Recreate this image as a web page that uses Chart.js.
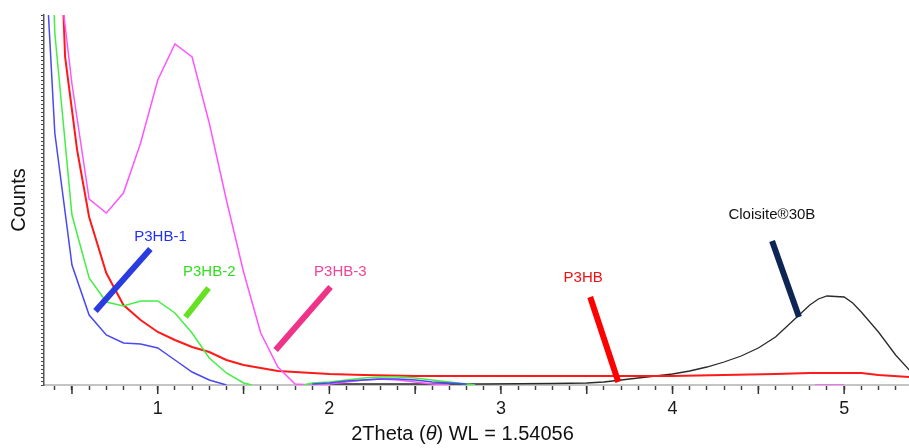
<!DOCTYPE html>
<html>
<head>
<meta charset="utf-8">
<title>XRD P3HB</title>
<script src="https://cdn.jsdelivr.net/npm/chart.js"></script>
<style>
    html, body { margin: 0; padding: 0; background: #fff; }
    #wrap { width: 909px; height: 448px; }
</style>
</head>
<body>
<div id="wrap"><canvas id="xrdChart" width="909" height="448"></canvas></div>
<script>
// 2Theta (graus) e contagens (unidades arbitrarias) de cada amostra
const p3hb1X = [0.3, 0.4, 0.5, 0.6, 0.7, 0.8, 0.9, 1.0, 1.1, 1.2, 1.3, 1.4, 1.6, 1.9, 2.0, 2.1, 2.2, 2.3, 2.4, 2.5, 2.6, 2.7, 2.8];
const p3hb1Y = [571, 252, 120, 70, 50, 42, 41, 37, 25, 13, 5, 0, null, 1, 2, 4, 5, 6, 6, 5, 3, 2, 1];

const p3hb2X = [0.3, 0.4, 0.5, 0.6, 0.7, 0.8, 0.9, 1.0, 1.1, 1.2, 1.3, 1.4, 1.5, 1.55, 1.7, 1.85, 1.9, 2.0, 2.1, 2.2, 2.3, 2.4, 2.5, 2.6, 2.7, 2.8, 2.85];
const p3hb2Y = [900, 352, 170, 107, 83, 79, 84, 84, 72, 52, 27, 12, 2, 0, null, 0, 2, 3, 5, 7, 8, 8, 7, 5, 3, 1, 0];

const p3hb3X = [0.4, 0.5, 0.6, 0.7, 0.8, 0.9, 1.0, 1.1, 1.2, 1.3, 1.4, 1.5, 1.6, 1.7, 1.8, 1.9, 2.0, 2.1, 2.2, 2.3, 2.4, 2.5, 2.6, 2.7, 4.0, 4.83, 5.0];
const p3hb3Y = [447, 301, 186, 172, 192, 242, 305, 341, 328, 262, 185, 113, 52, 18, 1, 0, 1, 3, 5, 6, 5, 3, 1, 0, null, 0, 0];

const p3hbX = [0.4, 0.46, 0.5, 0.53, 0.6, 0.7, 0.8, 0.9, 1.0, 1.1, 1.2, 1.3, 1.4, 1.5, 1.6, 1.7, 1.8, 2.0, 2.2, 2.5, 3.0, 3.5, 4.0, 4.3, 4.6, 4.8, 5.0, 5.1, 5.2, 5.38];
const p3hbY = [600, 328, 275, 235, 168, 112, 80, 65, 53, 45, 38, 33, 25, 20, 17, 14, 13, 11, 10, 9, 9, 9, 9, 10, 11, 12, 12, 12, 10, 8];

const cloisiteX = [2.0, 2.5, 2.9, 3.3, 3.5, 3.6, 3.7, 3.8, 3.9, 4.0, 4.1, 4.2, 4.3, 4.4, 4.5, 4.6, 4.7, 4.8, 4.85, 4.9, 5.0, 5.05, 5.1, 5.2, 5.3, 5.38];
const cloisiteY = [1, 1, 1, 1.5, 2, 3, 5, 7, 9, 11, 14, 18, 23, 29, 37, 48, 64, 80, 86, 89, 88, 82, 73, 53, 30, 15];

// rotulos com as setas que apontam para cada curva
const rotulos = ['P3HB-1', 'P3HB-2', 'P3HB-3', 'P3HB', 'Cloisite®30B'];
const rotuloX = [1.016, 1.30, 2.064, 3.479, 4.579];
const rotuloY = [148, 113, 113, 107, 170];
const setaX1 = [0.637, 1.162, 1.687, 3.52, 4.58];
const setaY1 = [74, 68, 35, 88, 144];
const setaX2 = [0.957, 1.296, 2.007, 3.684, 4.737];
const setaY2 = [136, 97, 98, 3, 68];
const corTexto = ['#2233ee', '#33dd22', '#ee4499', '#ee1111', '#111111'];
const corSeta = ['#2a3ce0', '#66e022', '#ee3388', '#ff0000', '#0d2654'];

function pontos(xs, ys) {
    return xs.map((x, i) => ({ x: x, y: ys[i] }));
}

const fonte = 'Liberation Sans, Arial, Helvetica, sans-serif';

const anotacoesPlugin = {
    id: 'anotacoes',
    afterDraw(chart) {
        const { ctx, chartArea, scales: { x, y } } = chart;
        ctx.save();

        // marcas maiores a cada 0.5
        ctx.strokeStyle = '#333';
        ctx.lineWidth = 1.5;
        x.ticks.forEach(t => {
            const dobro = t.value * 2;
            if (Math.abs(dobro - Math.round(dobro)) < 1e-6) {
                const px = x.getPixelForValue(t.value);
                ctx.beginPath();
                ctx.moveTo(px, chartArea.bottom + 1);
                ctx.lineTo(px, chartArea.bottom + 9);
                ctx.stroke();
            }
        });

        // setas
        ctx.lineCap = 'butt';
        ctx.lineWidth = 6;
        rotulos.forEach((txt, i) => {
            ctx.strokeStyle = corSeta[i];
            ctx.beginPath();
            ctx.moveTo(x.getPixelForValue(setaX1[i]), y.getPixelForValue(setaY1[i]));
            ctx.lineTo(x.getPixelForValue(setaX2[i]), y.getPixelForValue(setaY2[i]));
            ctx.stroke();
        });

        // textos dos rotulos
        ctx.font = '15px ' + fonte;
        ctx.textAlign = 'center';
        ctx.textBaseline = 'middle';
        rotulos.forEach((txt, i) => {
            ctx.fillStyle = corTexto[i];
            ctx.fillText(txt, x.getPixelForValue(rotuloX[i]), y.getPixelForValue(rotuloY[i]));
        });

        // titulo do eixo x com theta em italico
        const partes = [
            { t: '2Theta (', f: '20px ' + fonte },
            { t: 'θ', f: 'italic 20px ' + fonte },
            { t: ') WL = 1.54056', f: '20px ' + fonte }
        ];
        let total = 0;
        partes.forEach(p => { ctx.font = p.f; p.w = ctx.measureText(p.t).width; total += p.w; });
        let cx = (chartArea.left + chartArea.right) / 2 - 14 - total / 2;
        ctx.textAlign = 'left';
        ctx.textBaseline = 'middle';
        ctx.fillStyle = '#111';
        partes.forEach(p => {
            ctx.font = p.f;
            ctx.fillText(p.t, cx, 434);
            cx += p.w;
        });
        ctx.restore();
    }
};

const ctx = document.getElementById('xrdChart').getContext('2d');
new Chart(ctx, {
    type: 'line',
    data: {
        datasets: [
            { label: 'P3HB-1', data: pontos(p3hb1X, p3hb1Y), borderColor: '#4848f4', borderWidth: 1.5 },
            { label: 'P3HB-2', data: pontos(p3hb2X, p3hb2Y), borderColor: '#44ee44', borderWidth: 1.5 },
            { label: 'P3HB-3', data: pontos(p3hb3X, p3hb3Y), borderColor: '#ff55ff', borderWidth: 1.5 },
            { label: 'P3HB', data: pontos(p3hbX, p3hbY), borderColor: '#ff1a1a', borderWidth: 2 },
            { label: 'Cloisite®30B', data: pontos(cloisiteX, cloisiteY), borderColor: '#2a2a2a', borderWidth: 1.3 }
        ]
    },
    options: {
        responsive: false,
        animation: false,
        devicePixelRatio: 1,
        spanGaps: false,
        elements: { point: { radius: 0 }, line: { tension: 0 } },
        layout: { padding: { top: 15, right: 0, left: 0, bottom: 0 } },
        plugins: { legend: { display: false }, tooltip: { enabled: false } },
        scales: {
            x: {
                type: 'linear',
                min: 0.337,
                max: 5.378,
                grid: { drawOnChartArea: false, tickLength: 5, tickColor: '#444', tickWidth: 1.5 },
                border: { color: '#c4c4c4', width: 2 },
                ticks: {
                    stepSize: 0.1,
                    includeBounds: false,
                    autoSkip: false,
                    maxRotation: 0,
                    padding: 8,
                    color: '#1a1a1a',
                    font: { family: fonte, size: 18 },
                    callback: v => {
                        const r = Math.round(v * 1000) / 1000;
                        return Number.isInteger(r) ? String(r) : '';
                    }
                },
                afterFit: s => { s.height = 63; }
            },
            y: {
                min: 0,
                max: 370,
                grid: { drawOnChartArea: false, tickLength: 3, tickColor: '#444', tickWidth: 1 },
                border: { color: '#555', width: 1.5 },
                ticks: { display: false, stepSize: 4, autoSkip: false },
                title: {
                    display: true,
                    text: 'Counts',
                    color: '#111',
                    font: { family: fonte, size: 20 },
                    padding: { top: 7, bottom: 0 }
                },
                afterFit: s => { s.width = 44; }
            }
        }
    },
    plugins: [anotacoesPlugin]
});
</script>
</body>
</html>
